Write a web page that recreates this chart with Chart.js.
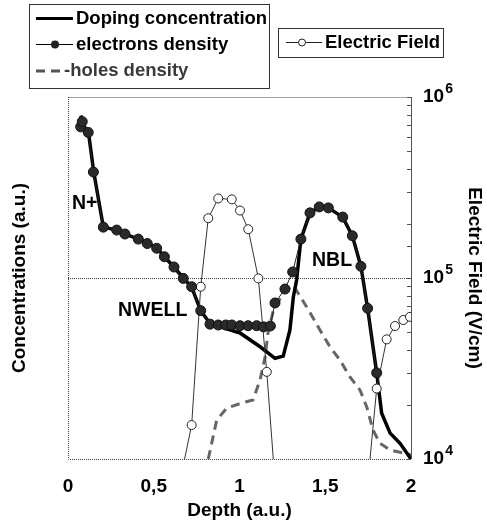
<!DOCTYPE html>
<html>
<head>
<meta charset="utf-8">
<script src="https://cdn.jsdelivr.net/npm/chart.js@4.4.1/dist/chart.umd.min.js"></script>
<style>
  body { margin: 0; background: #fff; }
  #wrap { position: relative; width: 487px; height: 527px; }
</style>
</head>
<body>
<div id="wrap"><canvas id="profileChart" width="487" height="527"></canvas></div>
<script>
// Depth (a.u.) / value pairs
const dopingDepth = [0.075, 0.09, 0.12, 0.15, 0.206, 0.285, 0.333, 0.41, 0.462, 0.517, 0.562, 0.618, 0.672, 0.721, 0.774, 0.828, 1.003, 1.12, 1.207, 1.255, 1.294, 1.314, 1.333, 1.358, 1.411, 1.465, 1.518, 1.602, 1.658, 1.708, 1.747, 1.80, 1.829, 1.878, 1.936, 2.0];
const dopingValues = [7.9e5, 7.0e5, 6.3e5, 3.85e5, 1.91e5, 1.84e5, 1.75e5, 1.64e5, 1.56e5, 1.47e5, 1.31e5, 1.15e5, 1.0e5, 8.9e4, 6.6e4, 5.6e4, 4.97e4, 4.17e4, 3.6e4, 3.7e4, 5.16e4, 7.85e4, 9.75e4, 1.64e5, 2.29e5, 2.47e5, 2.44e5, 2.17e5, 1.71e5, 1.16e5, 6.8e4, 2.99e4, 1.79e4, 1.39e4, 1.22e4, 1.0e4];

const electronDepth = [0.074, 0.083, 0.118, 0.148, 0.206, 0.284, 0.332, 0.41, 0.462, 0.517, 0.562, 0.618, 0.672, 0.721, 0.774, 0.828, 0.876, 0.92, 0.955, 1.003, 1.05, 1.10, 1.14, 1.18, 1.207, 1.265, 1.31, 1.358, 1.411, 1.465, 1.518, 1.602, 1.658, 1.708, 1.747, 1.80];
const electronValues = [6.84e5, 7.31e5, 6.37e5, 3.85e5, 1.91e5, 1.84e5, 1.75e5, 1.64e5, 1.55e5, 1.46e5, 1.31e5, 1.15e5, 9.95e4, 8.95e4, 6.6e4, 5.56e4, 5.5e4, 5.5e4, 5.5e4, 5.45e4, 5.45e4, 5.45e4, 5.37e4, 5.43e4, 7.28e4, 8.69e4, 1.08e5, 1.64e5, 2.29e5, 2.47e5, 2.44e5, 2.17e5, 1.71e5, 1.16e5, 6.8e4, 2.99e4];

const holeDepth = [0.818, 0.867, 0.925, 1.013, 1.079, 1.12, 1.149, 1.166, 1.195, 1.254, 1.312, 1.392, 1.469, 1.528, 1.586, 1.644, 1.703, 1.742, 1.778, 1.819, 1.878, 1.953, 2.0];
const holeValues = [1.0e4, 1.64e4, 1.91e4, 2.04e4, 2.12e4, 2.73e4, 3.66e4, 4.97e4, 6.49e4, 8.26e4, 9.14e4, 6.92e4, 5.16e4, 4.16e4, 3.52e4, 2.84e4, 2.40e4, 1.94e4, 1.45e4, 1.22e4, 1.12e4, 1.08e4, 1.05e4];

// field drops below 1e4 V/cm between the two peaks (null = gap)
const fieldDepth = [0.68, 0.721, 0.774, 0.818, 0.876, 0.955, 1.003, 1.051, 1.11, 1.159, 1.197, 1.5, 1.761, 1.80, 1.858, 1.907, 1.955, 1.994];
const fieldValues = [1.0e4, 1.54e4, 8.95e4, 2.14e5, 2.75e5, 2.72e5, 2.36e5, 1.86e5, 9.95e4, 3.03e4, 1.0e4, null, 1.0e4, 2.45e4, 4.58e4, 5.43e4, 5.86e4, 6.1e4];
const fieldMarker = [0, 4.5, 4.5, 4.5, 4.5, 4.5, 4.5, 4.5, 4.5, 4.5, 0, 0, 0, 4.5, 4.5, 4.5, 4.5, 4.5];

const xTicks = [0, 0.5, 1, 1.5, 2];
const fieldDecades = [4, 5, 6];   // right axis labels 10^4 .. 10^6

const FONT = '"Liberation Sans", Arial, sans-serif';

function pairs(xs, ys) {
  return xs.map((x, i) => ({ x: x, y: ys[i] }));
}

// Frame, 10^5 reference line and inward ticks of the right axis
const framePlugin = {
  id: 'frame',
  beforeDatasetsDraw(chart) {
    const { ctx, chartArea: a } = chart;
    const y2 = chart.scales.y2;
    ctx.save();
    ctx.lineWidth = 1;
    ctx.setLineDash([1, 1]);
    ctx.beginPath();
    ctx.moveTo(a.left + 0.5, a.top + 0.5);
    ctx.lineTo(a.right, a.top + 0.5);
    ctx.moveTo(a.left + 0.5, a.top);
    ctx.lineTo(a.left + 0.5, a.bottom + 0.5);
    ctx.lineTo(a.right, a.bottom + 0.5);
    const yRef = Math.round(y2.getPixelForValue(1e5)) + 0.5;
    ctx.moveTo(a.left, yRef);
    ctx.lineTo(a.right, yRef);
    ctx.strokeStyle = '#444';
    ctx.stroke();
    ctx.setLineDash([]);
    ctx.strokeStyle = '#555';
    ctx.beginPath();
    ctx.moveTo(a.right + 0.5, a.top);
    ctx.lineTo(a.right + 0.5, a.bottom);
    y2.ticks.forEach(t => {
      const py = Math.round(y2.getPixelForValue(t.value)) + 0.5;
      ctx.moveTo(a.right - 4, py);
      ctx.lineTo(a.right, py);
    });
    ctx.stroke();
    ctx.restore();
  },
  afterDraw(chart) {
    const ctx = chart.ctx;
    const y2 = chart.scales.y2;
    ctx.save();
    ctx.fillStyle = '#000';
    ctx.textBaseline = 'middle';

    // right axis labels with raised exponent
    fieldDecades.forEach(p => {
      const py = y2.getPixelForValue(Math.pow(10, p));
      ctx.font = 'bold 19px ' + FONT;
      ctx.fillText('10', y2.left + 12, py);
      const w = ctx.measureText('10').width;
      ctx.font = 'bold 14px ' + FONT;
      ctx.fillText(String(p), y2.left + 13 + w, py - 8);
    });

    // region labels
    ctx.font = 'bold 19.5px ' + FONT;
    ctx.fillText('N+', 72, 204);
    ctx.fillText('NWELL', 118, 311);
    ctx.fillText('NBL', 312, 261);

    // legend boxes
    ctx.strokeStyle = '#333';
    ctx.lineWidth = 1;
    ctx.strokeRect(29.5, 4.5, 240, 84);
    ctx.strokeRect(278.5, 28.5, 165, 29);

    ctx.font = 'bold 18.5px ' + FONT;
    // doping
    ctx.strokeStyle = '#000';
    ctx.lineWidth = 3;
    ctx.beginPath(); ctx.moveTo(36, 18.5); ctx.lineTo(73, 18.5); ctx.stroke();
    ctx.fillText('Doping concentration', 76, 19);
    // electrons
    ctx.lineWidth = 1;
    ctx.beginPath(); ctx.moveTo(36, 44.5); ctx.lineTo(73, 44.5); ctx.stroke();
    ctx.fillStyle = '#222';
    ctx.beginPath(); ctx.arc(55, 44.5, 4, 0, Math.PI * 2); ctx.fill();
    ctx.fillStyle = '#000';
    ctx.fillText('electrons density', 76, 45);
    // holes
    ctx.strokeStyle = '#555';
    ctx.lineWidth = 3;
    ctx.setLineDash([9, 6]);
    ctx.beginPath(); ctx.moveTo(36, 71); ctx.lineTo(61, 71); ctx.stroke();
    ctx.setLineDash([]);
    ctx.fillStyle = '#3a3a3a';
    ctx.fillText('-holes density', 64, 71);
    // field
    ctx.strokeStyle = '#222';
    ctx.lineWidth = 1;
    ctx.beginPath(); ctx.moveTo(286, 42.5); ctx.lineTo(322, 42.5); ctx.stroke();
    ctx.fillStyle = '#fff';
    ctx.beginPath(); ctx.arc(302, 42.5, 3.5, 0, Math.PI * 2); ctx.fill(); ctx.stroke();
    ctx.fillStyle = '#000';
    ctx.fillText('Electric Field', 325, 43);
    ctx.restore();
  }
};

const ctx = document.getElementById('profileChart');
new Chart(ctx, {
  type: 'scatter',
  data: {
    datasets: [
      { label: 'electrons density', data: pairs(electronDepth, electronValues), yAxisID: 'y', showLine: true,
        borderColor: '#222', borderWidth: 1, pointRadius: 5, pointBackgroundColor: '#2a2a2a', pointBorderColor: '#111', pointBorderWidth: 1 },
      { label: 'Electric Field', data: pairs(fieldDepth, fieldValues), yAxisID: 'y2', showLine: true, spanGaps: false,
        borderColor: '#333', borderWidth: 1, pointRadius: fieldMarker, pointBackgroundColor: '#fff', pointBorderColor: '#222', pointBorderWidth: 1 },
      { label: 'Doping concentration', data: pairs(dopingDepth, dopingValues), yAxisID: 'y', showLine: true,
        borderColor: '#000', borderWidth: 3.5, pointRadius: 0 },
      { label: 'holes density', data: pairs(holeDepth, holeValues), yAxisID: 'y', showLine: true,
        borderColor: '#666', borderWidth: 3, borderDash: [9, 6], pointRadius: 0 }
    ]
  },
  options: {
    responsive: false,
    animation: false,
    layout: { padding: { top: 97, left: 0, right: 0, bottom: 0 } },
    plugins: { legend: { display: false }, tooltip: { enabled: false } },
    scales: {
      x: {
        type: 'linear', min: 0, max: 2,
        afterBuildTicks: s => { s.ticks = xTicks.map(v => ({ value: v })); },
        afterFit: s => { s.height = 68; },
        grid: { display: false }, border: { display: false },
        ticks: { color: '#000', padding: 8, font: { family: FONT, size: 19, weight: 'bold' },
          callback: v => String(v).replace('.', ',') },
        title: { display: true, text: 'Depth (a.u.)', color: '#000', padding: { bottom: 5 },
          font: { family: FONT, size: 19, weight: 'bold' } }
      },
      y: {
        type: 'logarithmic', position: 'left', min: 1e4, max: 1e6,
        afterFit: s => { s.width = 68; },
        grid: { display: false }, border: { display: false },
        ticks: { display: false },
        title: { display: true, text: 'Concentrations (a.u.)', color: '#000', padding: { top: 8 },
          font: { family: FONT, size: 19, weight: 'bold' } }
      },
      y2: {
        type: 'logarithmic', position: 'right', min: 1e4, max: 1e6,
        afterFit: s => { s.width = 76; },
        grid: { display: false, drawTicks: false }, border: { display: false },
        ticks: { autoSkip: false, padding: 12, callback: () => '' },
        title: { display: true, text: 'Electric Field (V/cm)', color: '#000', padding: { top: 1 },
          font: { family: FONT, size: 19, weight: 'bold' } }
      }
    }
  },
  plugins: [framePlugin]
});
</script>
</body>
</html>
